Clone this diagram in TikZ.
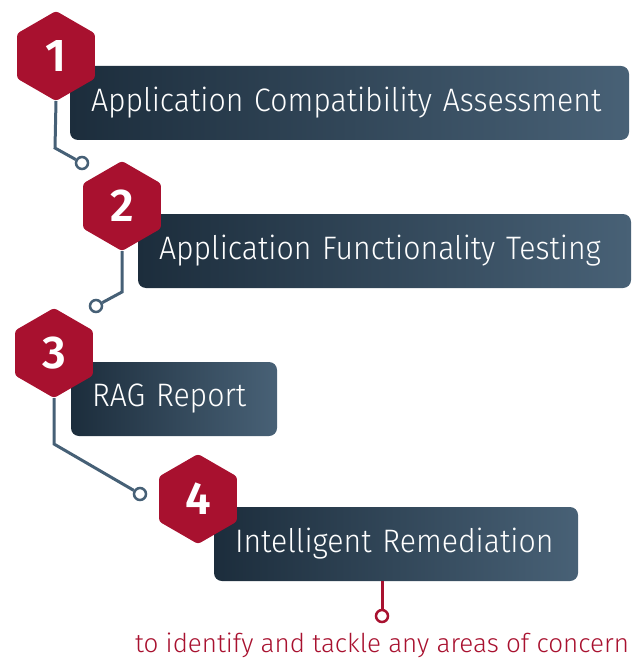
\documentclass[tikz,border=0pt]{standalone}
\usepackage{fontspec}
\setmainfont{Fira Sans Light}
\newfontfamily\barfont{Fira Sans Light}[FakeStretch=0.93]
\newfontfamily\numfont{Fira Sans SemiBold}
\usetikzlibrary{shapes.geometric,positioning}

\definecolor{hexred}{RGB}{168,17,47}
\definecolor{boxdark}{RGB}{28,45,60}
\definecolor{boxlight}{RGB}{72,97,118}
\definecolor{wirecol}{RGB}{70,96,118}

\begin{document}
\begin{tikzpicture}[x=1pt,y=-1pt,
  hexa/.style={regular polygon, regular polygon sides=6, shape border rotate=90,
    fill=hexred, inner sep=0pt, outer sep=0pt, minimum size=90pt, rounded corners=3pt,
    text=white, font=\numfont\fontsize{46}{46}\selectfont},
  stepbar/.style={rounded corners=8pt, left color=boxdark, right color=boxlight,
    text=white, anchor=west, align=left, minimum height=74pt,
    inner xsep=21pt, inner ysep=0pt, outer sep=0pt, font=\barfont\fontsize{32.5}{38}\selectfont},
  wire/.style={draw=wirecol, line width=3pt},
  hole/.style={circle, draw=#1, fill=white, line width=2.5pt, minimum size=12pt, inner sep=0pt},
  hole/.default=wirecol]
\useasboundingbox (0,0) rectangle (643,660);

% bends and pins
\coordinate (bend1) at (55,148);
\coordinate (bend2) at (122,292);
\coordinate (bend3) at (54,444);
\coordinate (drop4) at (382,581);
\node (pin1) [hole] at (82,163) {};
\node (pin2) [hole] at (96,306) {};
\node (pin3) [hole] at (140,494) {};
\node (pin4) [hole=hexred] at (382,616) {};

% steps
\node (box1) [stepbar, text width=517pt] at (70,103) {Application Compatibility Assessment};
\node (box2) [stepbar, text width=451pt] at (138,251) {Application Functionality Testing};
\node (box3) [stepbar, text width=164pt] at (71,399) {RAG Report};
\node (box4) [stepbar, text width=322pt] at (214,544) {Intelligent Remediation};

\node (hex1) [hexa] at (56,56) {1};
\node (hex2) [hexa] at (122,206) {2};
\node (hex3) [hexa] at (54,353) {3};
\node (hex4) [hexa] at (198,499) {4};

\draw[wire] (hex1.south) -- (bend1) -- (pin1);
\draw[wire] (hex2.south) -- (bend2) -- (pin2);
\draw[wire] (hex3.south) -- (bend3) -- (pin3);
\draw[draw=hexred, line width=3pt] (drop4) -- (pin4);

\node (note) [text=hexred, font=\fontsize{26}{30}\selectfont] at (382,645) {to identify and tackle any areas of concern};
\end{tikzpicture}
\end{document}
